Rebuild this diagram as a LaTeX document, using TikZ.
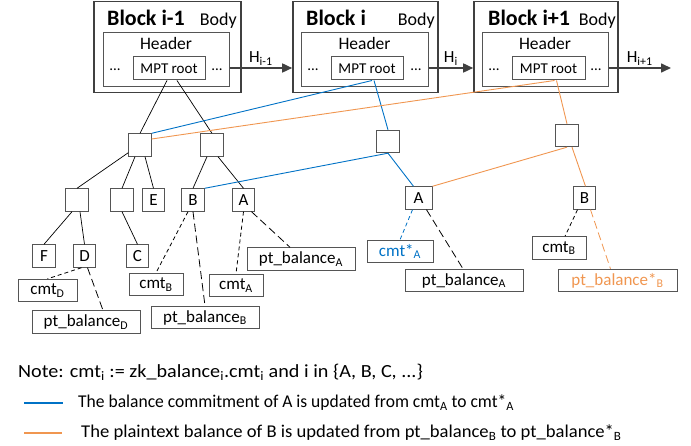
\documentclass[tikz,border=0pt]{standalone}
\usepackage{fontspec}
\usepackage{graphicx}
\setmainfont{Carlito}
\usetikzlibrary{arrows.meta}
\definecolor{cblue}{RGB}{0,114,198}
\definecolor{corange}{RGB}{240,150,80}
\definecolor{bord}{RGB}{85,85,85}
\definecolor{darkb}{RGB}{64,64,64}
\newcommand{\fs}[1]{\fontsize{#1}{#1}\selectfont}
\tikzset{
  blockbox/.style={draw=darkb, line width=1.6pt, minimum height=91pt, inner sep=0pt},
  hdrbox/.style={draw=bord, line width=1pt, minimum height=54pt, minimum width=126pt, inner sep=0pt},
  mptbox/.style={draw=bord, line width=1pt, minimum height=23pt, minimum width=72pt, inner sep=0pt, font=\fs{15}},
  sq/.style={draw=bord, line width=0.9pt, minimum width=22.5pt, minimum height=22.5pt, inner sep=0pt, font=\fs{17}},
  lbox/.style={draw=bord, line width=0.9pt, minimum height=22.5pt, inner sep=0pt, font=\fs{17}},
  tl/.style={line width=0.7pt, black},
  shortd/.style={line width=0.8pt, dash pattern=on 4pt off 3pt},
  longd/.style={line width=0.8pt, dash pattern=on 8pt off 4pt},
  harrow/.style={draw=darkb, line width=1.6pt, -{Triangle[length=10pt,width=9pt]}},
  blue1/.style={draw=cblue, line width=0.9pt},
  orange1/.style={draw=corange, line width=0.9pt},
  ttl/.style={font=\fs{22}\bfseries, anchor=base west, inner sep=0pt},
  bodyt/.style={font=\fs{18}, anchor=base east, inner sep=0pt},
  hdrt/.style={font=\fs{17.5}, inner sep=0pt},
  dots/.style={font=\fs{15}, inner sep=0pt},
  hlab/.style={font=\fs{17}, anchor=south, inner sep=2pt},
  legt/.style={font=\fs{18}, anchor=west, inner sep=0pt}
}
\begin{document}
\begin{tikzpicture}[x=1pt,y=-1pt]
\useasboundingbox (0,0) rectangle (691,446);
% ---------- blocks ----------
\node[blockbox, minimum width=147pt] (b1) at (167.5,47) {};
\node[hdrbox] (h1) at (166,60) {};
\node[mptbox] (m1) at (169,68.5) {MPT root};
\node[ttl] (t1) at (107,26) {Block i-1};
\node[bodyt] (y1) at (237,26) {Body};
\node[hdrt] (hh1) at (166,43) {Header};
\node[dots] (dl1) at (115,70) {...};
\node[dots] (dr1) at (217,70) {...};

\node[blockbox, minimum width=145pt] (b2) at (365.5,47) {};
\node[hdrbox, minimum width=127pt] (h2) at (364.5,60) {};
\node[mptbox] (m2) at (367,68.5) {MPT root};
\node[ttl] (t2) at (306,26) {Block i};
\node[bodyt] (y2) at (435,26) {Body};
\node[hdrt] (hh2) at (364.5,43) {Header};
\node[dots] (dl2) at (313,70) {...};
\node[dots] (dr2) at (416,70) {...};

\node[blockbox, minimum width=144pt] (b3) at (546,47) {};
\node[hdrbox] (h3) at (545,60) {};
\node[mptbox, minimum width=73pt] (m3) at (548.5,68.5) {MPT root};
\node[ttl] (t3) at (488,26) {Block i+1};
\node[bodyt] (y3) at (616,26) {Body};
\node[hdrt] (hh3) at (545,43) {Header};
\node[dots] (dl3) at (494,70) {...};
\node[dots] (dr3) at (596,70) {...};

\coordinate (hend) at (671,68);
\draw[harrow] (h1.east |- 0,68) -- (b2.west |- 0,68) node[midway, hlab] (l1) {H\textsubscript{i-1}};
\draw[harrow] (h2.east |- 0,68) -- (b3.west |- 0,68) node[midway, hlab] (l2) {H\textsubscript{i}};
\draw[harrow] (h3.east |- 0,68) -- (hend) node[midway, hlab] (l3) {H\textsubscript{i+1}};

% ---------- tree nodes ----------
\node[sq] (s1) at (140,145) {};
\node[sq] (s2) at (212,145) {};
\node[sq] (n1) at (77,200) {};
\node[sq] (n2) at (122,200) {};
\node[sq] (E) at (153.5,200) {E};
\node[sq] (B) at (193,200) {B};
\node[sq] (A) at (243.5,200) {A};
\node[sq] (F) at (44,256) {F};
\node[sq] (D) at (84.5,256) {D};
\node[sq] (C) at (137.5,256) {C};
\node[lbox, minimum width=59pt] (cmtD) at (47.5,290.5) {cmt\textsubscript{D}};
\node[lbox, minimum width=108pt] (ptD) at (86,322) {pt\_balance\textsubscript{D}};
\node[lbox, minimum width=54pt] (cmtB) at (156,284.5) {cmt\textsubscript{B}};
\node[lbox, minimum width=108pt] (ptB) at (205,317.5) {pt\_balance\textsubscript{B}};
\node[lbox, minimum width=54pt] (cmtA) at (236,285.5) {cmt\textsubscript{A}};
\node[lbox, minimum width=108pt] (ptA) at (301,259) {pt\_balance\textsubscript{A}};

\node[sq] (si) at (388,141.5) {};
\node[sq] (sip) at (567,135.5) {};
\node[sq, minimum width=27pt] (A2) at (418.5,198) {A};
\node[sq] (B2) at (584.5,198) {B};
\node[lbox, minimum width=66pt, text=cblue] (cmtA2) at (400,251.5) {cmt*\textsubscript{A}};
\node[lbox, minimum width=118pt] (ptA2) at (464,280.5) {pt\_balance\textsubscript{A}};
\node[lbox, minimum width=54pt] (cmtB2) at (559,248) {cmt\textsubscript{B}};
\node[lbox, minimum width=119pt, text=corange] (ptB2) at (617.5,280.5) {pt\_balance*\textsubscript{B}};

% ---------- black tree edges ----------
\draw[tl] ([xshift=-2pt]m1.south) -- (s1.north);
\draw[tl] ([xshift=8pt]m1.south) -- (s2.north);
\draw[tl] ([yshift=4pt]s1.south west) -- (n1.north);
\draw[tl] ([xshift=-5pt]s1.south) -- (n2.north);
\draw[tl] ([xshift=5pt]s1.south) -- (E.north);
\draw[tl] ([xshift=-5pt]s2.south) -- (B.north);
\draw[tl] ([xshift=6pt]s2.south) -- (A.north);
\draw[tl] ([xshift=-5pt]n1.south) -- (F.north);
\draw[tl] ([xshift=3pt]n1.south) -- (D.north);
\draw[tl] (n2.south) -- (C.north);
\draw[shortd] ([xshift=-3pt]D.south) -- (cmtD.north);
\draw[longd] ([xshift=3pt]D.south) -- ([xshift=17pt]ptD.north);
\draw[shortd] ([xshift=-5pt]B.south) -- (cmtB.north);
\draw[longd] (B.south) -- (ptB.north);
\draw[shortd] (A.south) -- (cmtA.north);
\draw[longd] ([xshift=8pt]A.south) -- ([xshift=-11pt]ptA.north);
\draw[longd] ([xshift=8pt]A2.south) -- ([xshift=-1pt]ptA2.north);
\draw[shortd] ([xshift=-7pt]B2.south) -- ([xshift=6pt]cmtB2.north);

% ---------- blue path ----------
\draw[blue1] ([xshift=5pt]m2.south) -- (s1.north east);
\draw[blue1] ([xshift=7pt]m2.south) -- (si.north);
\draw[blue1] (si.south) -- (B.north east);
\draw[blue1] (si.south) -- ([xshift=-5pt]A2.north);
\draw[blue1, shortd] ([xshift=-6pt]A2.south) -- (cmtA2.north);

% ---------- orange path ----------
\draw[orange1] ([xshift=6pt]m3.south) -- ([yshift=6pt]s1.east);
\draw[orange1] ([xshift=8pt]m3.south) -- (sip.north);
\draw[orange1] (sip.south) -- (A2.north east);
\draw[orange1] ([xshift=5pt]sip.south) -- ([xshift=1pt]B2.north);
\draw[orange1, longd] ([xshift=6pt]B2.south) -- ([xshift=-7pt]ptB2.north);

% ---------- legend ----------
\node[legt] (note) at (18,372) {\scalebox{1.12}[1.03]{Note: cmt\textsubscript{i} := zk\_balance\textsubscript{i}.cmt\textsubscript{i} and i in \{A, B, C, ...\}}};
\coordinate (lb1) at (24,403);
\coordinate (lb2) at (63,403);
\draw[cblue, line width=1.2pt] (lb1) -- (lb2);
\node[legt] (leg1) at (78,403) {\scalebox{0.973}[1]{The balance commitment of A is updated from cmt\textsubscript{A} to cmt*\textsubscript{A}}};
\coordinate (lo1) at (24,433);
\coordinate (lo2) at (62,433);
\draw[corange, line width=1.2pt] (lo1) -- (lo2);
\node[legt] (leg2) at (81,433) {\scalebox{1.034}[1]{The plaintext balance of B is updated from pt\_balance\textsubscript{B} to pt\_balance*\textsubscript{B}}};
\end{tikzpicture}
\end{document}
